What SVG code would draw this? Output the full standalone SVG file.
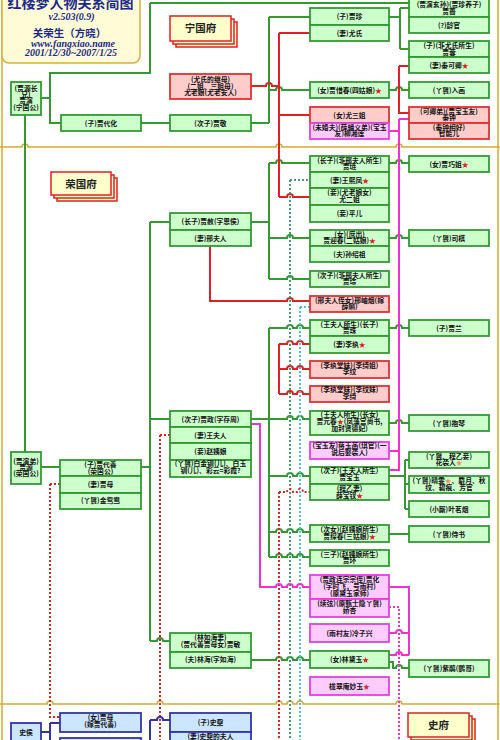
<svg xmlns="http://www.w3.org/2000/svg" width="500" height="740" viewBox="0 0 500 740">
<style>
.g{fill:#ccffcc;stroke:#339933;stroke-width:1.8}
.p{fill:#ffcccc;stroke:#dd3333;stroke-width:1.8}
.m{fill:#ffccff;stroke:#dd44dd;stroke-width:1.8}
.b{fill:#cce6ff;stroke:#3333aa;stroke-width:1.8}
.y{fill:#ffffcc;stroke:#dd2222;stroke-width:1.5}
text{font-family:"Noto Sans CJK SC","Noto Sans",sans-serif}
.t{font-size:6.8px;fill:#111;text-anchor:middle;font-weight:bold}
.h{font-size:10.5px;fill:#222;text-anchor:middle;font-weight:bold}
.s{fill:#e02020}
.o{fill:#f09060}
.ti{fill:#1a2a8a;text-anchor:middle}
.se{font-family:"Liberation Serif",serif;font-style:italic;font-size:10px}
path{fill:none;stroke-width:2}
.cg{stroke:#339933}
.cr{stroke:#dd2222}
.cm{stroke:#ee33cc}
.cb{stroke:#3333aa}
.d{stroke-dasharray:2 2}
.dg{stroke:#4a9a70}
.dc{stroke:#44c4d4}
.gold{stroke:#d4aa30;stroke-width:1.5}
</style>
<rect width="500" height="740" fill="#ffffff"/>
<g id="frame">
<path class="gold" d="M2,0 V740"/>
<path class="gold" d="M498,0 V740"/>
<path class="gold" d="M0,147 H22 a3,3 0 0 1 6,0 H276 a3,3 0 0 1 6,0 H396 a3,3 0 0 1 6,0 H500"/>
<path class="gold" d="M0,704 H47 a3,3 0 0 1 6,0 H157 a3,3 0 0 1 6,0 H276 a3,3 0 0 1 6,0 H287 a3,3 0 0 1 6,0 H297 a3,3 0 0 1 6,0 H396 a3,3 0 0 1 6,0 H500"/>
</g>
<g id="connectors">
<path class="cg" d="M150,3 H409"/>
<path class="cg" d="M150,3 V73 H50 V123 H61"/>
<path class="cg" d="M41,98 H50"/>
<path class="cg" d="M25,115 V452"/>
<path class="cg" d="M141,123 H170"/>
<path class="cg" d="M251,123 H269 M269,17 V123 M269,17 H310"/>
<path class="cg" d="M269,90 H276 a3,3 0 0 1 6,0 H310"/>
<path class="cg" d="M389,17 H400 M400,8 V49 M400,8 H409 M400,49 H409"/>
<path class="cg" d="M389,90 H396 a3,3 0 0 1 6,0 H409"/>
<path class="cg" d="M251,222 H269 M269,163 V279"/>
<path class="cg" d="M269,163 H276 a3,3 0 0 1 6,0 H310"/>
<path class="cg" d="M389,163 H396 a3,3 0 0 1 6,0 H409"/>
<path class="cg" d="M269,238 H287 a3,3 0 0 1 6,0 H310"/>
<path class="cg" d="M389,238 H396 a3,3 0 0 1 6,0 H409"/>
<path class="cg" d="M269,279 H287 a3,3 0 0 1 6,0 H310"/>
<path class="cg" d="M150,222 V641 M150,222 H170 M141,467 H150 M150,419 H170"/>
<path class="cg" d="M41,467 H60"/>
<path class="cg" d="M251,419 H269 M269,328 V557"/>
<path class="cg" d="M269,328 H287 a3,3 0 0 1 6,0 H297 a3,3 0 0 1 6,0 H310"/>
<path class="cg" d="M389,328 H396 a3,3 0 0 1 6,0 H409"/>
<path class="cg" d="M269,419 H287 a3,3 0 0 1 6,0 H297 a3,3 0 0 1 6,0 H310"/>
<path class="cg" d="M389,423 H396 a3,3 0 0 1 6,0 H409"/>
<path class="cg" d="M269,476 H287 a3,3 0 0 1 6,0 H297 a3,3 0 0 1 6,0 H310"/>
<path class="cg" d="M389,476 H405 M405,460 V509 M405,460 H409 M405,484 H409 M405,509 H409"/>
<path class="cg" d="M269,532 H276 a3,3 0 0 1 6,0 H287 a3,3 0 0 1 6,0 H297 a3,3 0 0 1 6,0 H310"/>
<path class="cg" d="M389,534 H409"/>
<path class="cg" d="M269,557 H276 a3,3 0 0 1 6,0 H287 a3,3 0 0 1 6,0 H297 a3,3 0 0 1 6,0 H310"/>
<path class="cg" d="M150,641 H157 a3,3 0 0 1 6,0 H170"/>
<path class="cg" d="M251,660 H276 a3,3 0 0 1 6,0 H287 a3,3 0 0 1 6,0 H297 a3,3 0 0 1 6,0 H310"/>
<path class="cg" d="M389,662 H393 V668 H396 a3,3 0 0 1 6,0 H409"/>
<path class="cr" d="M251,86 H266 a3,3 0 0 1 6,0 H279 M279,33 V197 M279,33 H310 M279,115 H310"/>
<path class="cr" d="M279,197 H287 a3,3 0 0 1 6,0 H310"/>
<path class="cr" d="M399,66 H409 M399,66 V113 H409"/>
<path class="cr" d="M210,246 V301 H287 a3,3 0 0 1 6,0 H310"/>
<path class="cr" d="M279,344 V394"/>
<path class="cr" d="M279,344 H287 a3,3 0 0 1 6,0 H297 a3,3 0 0 1 6,0 H310"/>
<path class="cr" d="M279,369 H287 a3,3 0 0 1 6,0 H297 a3,3 0 0 1 6,0 H310"/>
<path class="cr" d="M279,394 H287 a3,3 0 0 1 6,0 H297 a3,3 0 0 1 6,0 H310"/>
<path class="dg d" d="M290,180 V740 M290,180 H310"/>
<path class="dc d" d="M300,307 V740 M300,307 H310"/>
<path class="cr d" d="M279,492 V740"/>
<path class="cr d" d="M279,492 H287 a3,3 0 0 1 6,0 H297 a3,3 0 0 1 6,0 H310"/>
<path class="cr d" d="M160,435 V740 M160,435 H170"/>
<path class="cr d" d="M50,484 V717 H60 M50,484 H61"/>
<path class="cm d" d="M389,607 H399 V740"/>
<path class="cm" d="M399,119 V470 H389 M399,119 H409 M389,131 H399 M389,451 H399"/>
<path class="cm" d="M251,424 H260 V587 H276 a3,3 0 0 1 6,0 H287 a3,3 0 0 1 6,0 H297 a3,3 0 0 1 6,0 H310"/>
<path class="cm" d="M389,587 H409 V655"/>
<path class="cm" d="M389,633 H396 a3,3 0 0 1 6,0 H409"/>
<path class="cm" d="M389,655 H396 a3,3 0 0 1 6,0 H409"/>
<path class="cb" d="M41,732 H50 M50,723 V740 M50,723 H60"/>
<path class="cb" d="M150,720 V740 M150,720 H157 a3,3 0 0 1 6,0 H170"/>
</g>
<g id="title">
<rect x="2" y="-10" width="138" height="73" rx="7" fill="#fffbd6" stroke="#d8b040" stroke-width="1.5"/>
<text class="ti" x="70.5" y="8" font-size="14" font-weight="bold">红楼梦人物关系简图</text>
<text class="ti se" x="71.5" y="19.5" font-weight="bold">v2.503(0.9)</text>
<text class="ti" x="69.5" y="37" font-size="10.5" font-weight="bold">关荣生（方晓）</text>
<text class="ti se" x="73" y="46.5" font-weight="bold">www.fangxiao.name</text>
<text class="ti se" x="71" y="55.5" font-weight="bold">2001/12/30~2007/1/25</text>
</g>
<g id="n_ningguofu">
<rect class="y" x="176" y="22" width="61" height="25"/>
<rect class="y" x="173" y="19" width="61" height="25"/>
<rect class="y" x="170" y="16" width="61" height="25"/>
<text class="h" x="200.5" y="32">宁国府</text>
</g>
<g id="n_rongguofu">
<rect class="y" x="57" y="178" width="60" height="23"/>
<rect class="y" x="54" y="175" width="60" height="23"/>
<rect class="y" x="51" y="172" width="60" height="23"/>
<text class="h" x="81" y="187.5">荣国府</text>
</g>
<g id="n_shifu">
<rect class="y" x="414" y="719" width="61" height="24"/>
<rect class="y" x="411" y="716" width="61" height="24"/>
<rect class="y" x="408" y="713" width="61" height="24"/>
<text class="h" x="438.5" y="729">史府</text>
</g>
<g id="n_jiayan"><rect class="g" x="11" y="82" width="30" height="33"/>
<text class="t" x="26" y="90.5">(贾源长</text><text class="t" x="26" y="96.5">兄)</text><text class="t" x="26" y="102.5">贾演</text><text class="t" x="26" y="109.5">(宁国公)</text></g>
<g id="n_jiadaihua"><rect class="g" x="61" y="115" width="80" height="16"/><text class="t" x="101" y="125.5">(子)贾代化</text></g>
<g id="n_jiajing"><rect class="g" x="170" y="115" width="81" height="16"/><text class="t" x="210.5" y="125.5">(次子)贾敬</text></g>
<g id="n_youlaoniang"><rect class="p" x="170" y="74" width="81" height="25"/>
<text class="t" x="210.5" y="81.5">(尤氏的继母)</text><text class="t" x="210.5" y="88.5">(二姐、三姐母)</text><text class="t" x="210.5" y="95">尤老娘(尤老安人)</text></g>
<g id="n_jiazhen"><rect class="g" x="310" y="8" width="79" height="17"/><rect class="g" x="310" y="25" width="79" height="16"/>
<text class="t" x="349.5" y="19">(子)贾珍</text><text class="t" x="349.5" y="35.5">(妻)尤氏</text></g>
<g id="n_jiaqiang"><rect class="g" x="409" y="-2" width="80" height="19"/><rect class="g" x="409" y="17" width="80" height="16"/>
<text class="t" x="449" y="7">(贾演玄孙)(贾珍养子)</text><text class="t" x="449" y="13.5">贾蔷</text><text class="t" x="449" y="27.5">(?)龄官</text></g>
<g id="n_jiarong"><rect class="g" x="409" y="41" width="80" height="16"/><rect class="g" x="409" y="57" width="80" height="16"/>
<text class="t" x="449" y="48">(子)(非尤氏所生)</text><text class="t" x="449" y="54.5">贾蓉</text><text class="t" x="449" y="67.5">(妻)秦可卿<tspan class="s">★</tspan></text></g>
<g id="n_ruhua"><rect class="g" x="409" y="82" width="80" height="16"/><text class="t" x="449" y="92.5">(丫鬟)入画</text></g>
<g id="n_xichun"><rect class="g" x="310" y="82" width="79" height="16"/><text class="t" x="349.5" y="92.5">(女)贾惜春(四姑娘)<tspan class="s">★</tspan></text></g>
<g id="n_yousanjie"><rect class="p" x="310" y="107" width="79" height="16"/><rect class="m" x="310" y="123" width="79" height="16"/>
<text class="t" x="349.5" y="117.5">(女)尤三姐</text><text class="t" x="349.5" y="129.5">(未婚夫)(薛蟠义弟)(宝玉</text><text class="t" x="349.5" y="136">友)柳湘莲</text></g>
<g id="n_qinzhong"><rect class="p" x="409" y="107" width="80" height="16"/><rect class="p" x="409" y="123" width="80" height="16"/>
<text class="t" x="449" y="113.5">(可卿弟)(贾宝玉友)</text><text class="t" x="449" y="120">秦钟</text><text class="t" x="449" y="129.5">(秦钟相好)</text><text class="t" x="449" y="136">智能儿</text></g>
<g id="n_jialian"><rect class="g" x="310" y="156" width="79" height="16"/><rect class="g" x="310" y="172" width="79" height="16"/><rect class="g" x="310" y="188" width="79" height="17"/><rect class="g" x="310" y="205" width="79" height="17"/>
<text class="t" x="349.5" y="162.5">(长子)(非邢夫人所生)</text><text class="t" x="349.5" y="169">贾琏</text><text class="t" x="349.5" y="182.5">(妻)王熙凤<tspan class="s">★</tspan></text><text class="t" x="349.5" y="195">(妾)(尤老娘女)</text><text class="t" x="349.5" y="201.5">尤二姐</text><text class="t" x="349.5" y="216">(妾)平儿</text></g>
<g id="n_qiaojie"><rect class="g" x="409" y="156" width="80" height="16"/><text class="t" x="449" y="166.5">(女)贾巧姐<tspan class="s">★</tspan></text></g>
<g id="n_jiashe"><rect class="g" x="170" y="213" width="81" height="17"/><rect class="g" x="170" y="230" width="81" height="16"/>
<text class="t" x="210.5" y="224">(长子)贾赦(字恩侯)</text><text class="t" x="210.5" y="240.5">(妻)邢夫人</text></g>
<g id="n_yingchun"><rect class="g" x="310" y="230" width="79" height="16"/><rect class="g" x="310" y="246" width="79" height="16"/>
<text class="t" x="349.5" y="236.5">(女)(庶出)</text><text class="t" x="349.5" y="243">贾迎春(二姑娘)<tspan class="s">★</tspan></text><text class="t" x="349.5" y="256.5">(夫)孙绍祖</text></g>
<g id="n_siqi"><rect class="g" x="409" y="230" width="80" height="16"/><text class="t" x="449" y="240.5">(丫鬟)司棋</text></g>
<g id="n_jiacong"><rect class="g" x="310" y="271" width="79" height="16"/><text class="t" x="349.5" y="277.5">(次子)(非邢夫人所生)</text><text class="t" x="349.5" y="284">贾琮</text></g>
<g id="n_xingxiuyan"><rect class="p" x="310" y="296" width="79" height="16"/><text class="t" x="349.5" y="302.5">(邢夫人侄女)邢岫烟(嫁</text><text class="t" x="349.5" y="309">薛蝌)</text></g>
<g id="n_jiazhu"><rect class="g" x="310" y="320" width="79" height="16"/><rect class="g" x="310" y="336" width="79" height="17"/>
<text class="t" x="349.5" y="326.5">(王夫人所生)(长子)</text><text class="t" x="349.5" y="333">贾珠</text><text class="t" x="349.5" y="347">(妻)李纨<tspan class="s">★</tspan></text></g>
<g id="n_jialan"><rect class="g" x="409" y="320" width="80" height="16"/><text class="t" x="449" y="330.5">(子)贾兰</text></g>
<g id="n_liwen"><rect class="p" x="310" y="361" width="79" height="17"/><text class="t" x="349.5" y="367.5">(李纨堂妹)(李绮姐)</text><text class="t" x="349.5" y="374">李纹</text></g>
<g id="n_liqi"><rect class="p" x="310" y="386" width="79" height="16"/><text class="t" x="349.5" y="392">(李纨堂妹)(李纹妹)</text><text class="t" x="349.5" y="398.5">李绮</text></g>
<g id="n_yuanchun"><rect class="g" x="310" y="411" width="79" height="24"/>
<text class="t" x="349.5" y="417">(王夫人所生)(长女)</text><text class="t" x="349.5" y="424">贾元春<tspan class="s">★</tspan>(凤藻宫尚书,</text><text class="t" x="349.5" y="431">加封贤德妃)</text></g>
<g id="n_baoqin"><rect class="g" x="409" y="415" width="80" height="16"/><text class="t" x="449" y="425.5">(丫鬟)抱琴</text></g>
<g id="n_jiazheng"><rect class="g" x="170" y="411" width="81" height="16"/><rect class="g" x="170" y="427" width="81" height="16"/><rect class="g" x="170" y="443" width="81" height="17"/><rect class="g" x="170" y="460" width="81" height="17"/>
<text class="t" x="210.5" y="421.5">(次子)贾政(字存周)</text><text class="t" x="210.5" y="437.5">(妻)王夫人</text><text class="t" x="210.5" y="454">(妾)赵姨娘</text><text class="t" x="210.5" y="466">(丫鬟)白金钏(儿)、白玉</text><text class="t" x="210.5" y="473">钏(儿)、彩云=彩霞?</text></g>
<g id="n_jiangyuhan"><rect class="m" x="310" y="442" width="79" height="17"/><text class="t" x="349.5" y="448">(宝玉友)蒋玉菡(琪官)(一</text><text class="t" x="349.5" y="455">说后娶袭人)</text></g>
<g id="n_baoyu"><rect class="g" x="310" y="467" width="79" height="17"/><rect class="g" x="310" y="484" width="79" height="16"/>
<text class="t" x="349.5" y="473">(次子)(王夫人所生)</text><text class="t" x="349.5" y="480">贾宝玉</text><text class="t" x="349.5" y="490.5">(程乙妻)</text><text class="t" x="349.5" y="497.5">薛宝钗<tspan class="s">★</tspan></text></g>
<g id="n_xiren"><rect class="g" x="409" y="452" width="80" height="16"/><text class="t" x="449" y="458.5">(丫鬟、程乙妾)</text><text class="t" x="449" y="465">花袭人<tspan class="o">★</tspan></text></g>
<g id="n_qingwen"><rect class="g" x="409" y="476" width="80" height="17"/><text class="t" x="449" y="482.5">(丫鬟)晴雯<tspan class="o">★</tspan>、麝月、秋</text><text class="t" x="449" y="489.5">纹、碧痕、芳官</text></g>
<g id="n_mingyan"><rect class="g" x="409" y="501" width="80" height="16"/><text class="t" x="449" y="511.5">(小厮)叶茗烟</text></g>
<g id="n_tanchun"><rect class="g" x="310" y="525" width="79" height="17"/><text class="t" x="349.5" y="531.5">(次女)(赵姨娘所生)</text><text class="t" x="349.5" y="538.5">贾探春(三姑娘)<tspan class="s">★</tspan></text></g>
<g id="n_shishu"><rect class="g" x="409" y="526" width="80" height="16"/><text class="t" x="449" y="536.5">(丫鬟)侍书</text></g>
<g id="n_jiahuan"><rect class="g" x="310" y="550" width="79" height="16"/><text class="t" x="349.5" y="556.5">(三子)(赵姨娘所生)</text><text class="t" x="349.5" y="563">贾环</text></g>
<g id="n_jiayucun"><rect class="m" x="310" y="575" width="79" height="24"/><rect class="m" x="310" y="599" width="79" height="18"/>
<text class="t" x="349.5" y="582">(贾政连宗宗侄)贾化</text><text class="t" x="349.5" y="589">(字时飞，号雨村)</text><text class="t" x="349.5" y="596">(原黛玉家师)</text><text class="t" x="349.5" y="605.5">(续弦)(原甄士隐丫鬟)</text><text class="t" x="349.5" y="612.5">娇杏</text></g>
<g id="n_lengzixing"><rect class="m" x="310" y="624" width="79" height="18"/><text class="t" x="349.5" y="635.5">(雨村友)冷子兴</text></g>
<g id="n_lindaiyu"><rect class="g" x="310" y="651" width="79" height="17"/><text class="t" x="349.5" y="662">(女)林黛玉<tspan class="s">★</tspan></text></g>
<g id="n_zijuan"><rect class="g" x="409" y="660" width="80" height="17"/><text class="t" x="449" y="671">(丫鬟)紫鹃(鹦哥)</text></g>
<g id="n_miaoyu"><rect class="m" x="310" y="677" width="79" height="18"/><text class="t" x="349.5" y="688.5">栊翠庵妙玉<tspan class="s">★</tspan></text></g>
<g id="n_jiayuan"><rect class="g" x="11" y="452" width="30" height="32"/>
<text class="t" x="26" y="463.5">(贾演弟)</text><text class="t" x="26" y="469.5">贾源</text><text class="t" x="26" y="475.5">(荣国公)</text></g>
<g id="n_jiadaishan"><rect class="g" x="60" y="460" width="81" height="16"/><rect class="g" x="60" y="476" width="81" height="17"/><rect class="g" x="60" y="493" width="81" height="16"/>
<text class="t" x="100.5" y="466.5">(子)贾代善</text><text class="t" x="100.5" y="473.5">(荣国公)</text><text class="t" x="100.5" y="486.5">(妻)贾母</text><text class="t" x="100.5" y="503">(丫鬟)金鸳鸯</text></g>
<g id="n_linruhai"><rect class="g" x="170" y="633" width="81" height="19"/><rect class="g" x="170" y="652" width="81" height="16"/>
<text class="t" x="210.5" y="640">(林如海妻)</text><text class="t" x="210.5" y="647">(贾代善贾母女)贾敏</text><text class="t" x="210.5" y="662">(夫)林海(字如海)</text></g>
<g id="n_shihou"><rect class="b" x="11" y="723" width="30" height="26"/><text class="t" x="26" y="734.5">史侯</text></g>
<g id="n_jiamu_shi"><rect class="b" x="60" y="713" width="81" height="19"/><rect class="b" x="60" y="738" width="81" height="20"/>
<text class="t" x="100.5" y="720">(女)贾母</text><text class="t" x="100.5" y="727">(嫁贾代善)</text></g>
<g id="n_shinai"><rect class="b" x="170" y="713" width="81" height="19"/><rect class="b" x="170" y="732" width="81" height="18"/>
<text class="t" x="210.5" y="724.5">(子)史鼐</text><text class="t" x="210.5" y="738.5">(妻)史鼐的夫人</text></g>
</svg>
